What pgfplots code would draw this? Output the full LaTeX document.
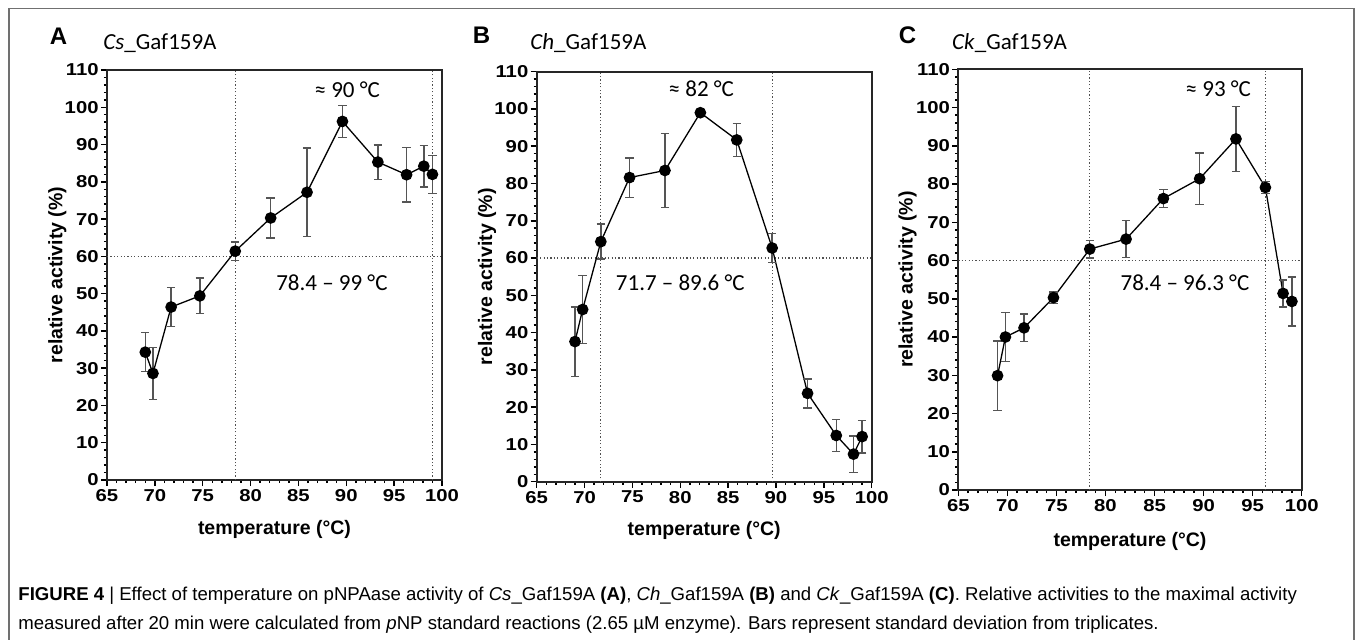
\documentclass[border=0pt]{standalone}
\usepackage{fontspec}
\setmainfont{Liberation Sans}
\newfontfamily\calibri{Carlito}
\usepackage{graphicx}
\usepackage{pgfplots}
\usepackage{pgfplotstable}
\pgfplotsset{compat=1.18}
\definecolor{errgray}{HTML}{555555}
\definecolor{framegray}{HTML}{707070}
\definecolor{dotgray}{HTML}{505050}

\pgfplotstableread{
T y e
69.0 34.3 5.2
69.8 28.6 7.0
71.7 46.4 5.2
74.7 49.4 4.8
78.4 61.4 2.5
82.1 70.3 5.4
85.9 77.2 11.9
89.6 96.2 4.3
93.3 85.3 4.6
96.3 81.9 7.3
98.1 84.2 5.6
99.0 82.0 5.1
}\dataA
\pgfplotstableread{
T y e
69.0 37.6 9.3
69.8 46.2 9.1
71.7 64.4 4.7
74.7 81.6 5.3
78.4 83.5 9.9
82.1 99.0 0.9
85.9 91.7 4.4
89.6 62.7 3.9
93.3 23.7 3.9
96.3 12.4 4.3
98.1 7.4 4.9
99.0 12.1 4.4
}\dataB
\pgfplotstableread{
T y e
69.0 29.9 9.1
69.8 40.0 6.4
71.7 42.4 3.6
74.7 50.3 1.5
78.4 63.0 2.3
82.1 65.6 4.8
85.9 76.2 2.4
89.6 81.4 6.7
93.3 91.8 8.5
96.3 79.1 1.5
98.1 51.4 3.5
99.0 49.3 6.4
}\dataC

\newcommand{\tickfont}{\fontsize{8.6}{10}\selectfont\bfseries}
\newcommand{\tl}[1]{\scalebox{1.18}[1]{\tickfont\pgfmathprintnumber[assume math mode=true]{#1}}}
\pgfplotsset{
  panel/.style={
    scale only axis, anchor=south west,
    xmin=65, xmax=100, ymin=0, ymax=110,
    xtick={65,70,...,100}, ytick={0,10,...,110},
    minor x tick num=4, minor y tick num=4,
    tick align=outside, tick pos=left,
    major tick length=3pt, minor tick length=1.6pt,
    every tick/.style={black, line width=0.75pt},
    axis line style={black!85, line width=1pt},
    /pgf/number format/assume math mode=true,
    xticklabel={\tl{\tick}},
    yticklabel={\tl{\tick}},
    ticklabel style={inner sep=1pt},
    xticklabel style={yshift=-0.5pt},
    label style={font=\fontsize{9.75}{11}\selectfont\bfseries},
    xlabel={temperature (°C)}, ylabel={relative activity (\%)},
    xlabel style={at={(axis description cs:0.5,0)}, anchor=center, yshift=-24.5pt},
    ylabel style={at={(axis description cs:-0.148,0.5)}, anchor=center, rotate=0},
  },
  dataline/.style={black, line width=0.65pt, mark=*, mark size=2.6pt,
    mark options={fill=black, solid},
    error bars/.cd, y dir=both, y explicit,
    error bar style={errgray, line width=0.7pt},
    error mark options={rotate=90, mark size=2.1pt, errgray, line width=0.7pt}},
  refline/.style={dotgray, dash pattern=on 0.6pt off 1.1pt, line width=0.6pt, forget plot},
}
\newcommand{\annfont}{\calibri\fontsize{11.5}{13}\selectfont}
\newcommand{\letterfont}{\fontsize{12}{14}\selectfont\bfseries}

\begin{document}
\begin{tikzpicture}
\path[use as bounding box] (0,0) rectangle (677.5pt,319.5pt);
\draw[framegray, line width=0.75pt] (4.5pt,-10pt) -- (4.5pt,315.25pt) -- (677pt,315.25pt) -- (677pt,-10pt);

% titles
\node[font=\letterfont] at (29.25pt,301.5pt) {A};
\node[font=\annfont, anchor=base west, inner sep=0pt] at (51.5pt,294.85pt) {\textit{Cs}\_Gaf159A};
\node[font=\letterfont] at (240.75pt,302pt) {B};
\node[font=\annfont, anchor=base west, inner sep=0pt] at (265pt,294.85pt) {\textit{Ch}\_Gaf159A};
\node[font=\letterfont] at (453.75pt,302pt) {C};
\node[font=\annfont, anchor=base west, inner sep=0pt] at (475.85pt,294.85pt) {\textit{Ck}\_Gaf159A};

% Panel A
\begin{axis}[panel, at={(53.5pt,79.5pt)}, width=167.5pt, height=205pt]
\addplot[refline] coordinates {(78.4,0) (78.4,110)};
\addplot[refline] coordinates {(99,0) (99,110)};
\addplot[refline] coordinates {(65,60) (100,60)};
\addplot[dataline] table[x=T, y=y, y error=e] {\dataA};
\node[font=\annfont] at (axis cs:90.1,104.8) {≈ 90 °C};
\node[font=\annfont] at (axis cs:88.5,53.0) {78.4 – 99 °C};
\end{axis}

% Panel B
\begin{axis}[panel, at={(268.35pt,78.65pt)}, width=167.5pt, height=205pt]
\addplot[refline] coordinates {(71.7,0) (71.7,110)};
\addplot[refline] coordinates {(89.6,0) (89.6,110)};
\addplot[refline] coordinates {(65,60) (100,60)};
\addplot[dataline] table[x=T, y=y, y error=e] {\dataB};
\node[font=\annfont] at (axis cs:82.2,105.3) {≈ 82 °C};
\node[font=\annfont] at (axis cs:80.0,53.4) {71.7 – 89.6 °C};
\end{axis}

% Panel C
\begin{axis}[panel, at={(479.15pt,74.5pt)}, width=171.7pt, height=210.35pt,
  xlabel style={yshift=-1pt}]
\addplot[refline] coordinates {(78.4,0) (78.4,110)};
\addplot[refline] coordinates {(96.3,0) (96.3,110)};
\addplot[refline] coordinates {(65,60) (100,60)};
\addplot[dataline] table[x=T, y=y, y error=e] {\dataC};
\node[font=\annfont] at (axis cs:91.5,104.8) {≈ 93 °C};
\node[font=\annfont] at (axis cs:88.1,54.2) {78.4 – 96.3 °C};
\end{axis}

% caption
\node[anchor=base west, inner sep=0pt, font=\fontsize{9.3}{11}\selectfont] at (9pt,19.2pt)
 {\textbf{FIGURE 4} | Effect of temperature on pNPAase activity of \textit{Cs}\_Gaf159A \textbf{(A)}, \textit{Ch}\_Gaf159A \textbf{(B)} and \textit{Ck}\_Gaf159A \textbf{(C)}. Relative activities to the maximal activity};
\node[anchor=base west, inner sep=0pt, font=\fontsize{9.3}{11}\selectfont] at (9pt,5pt)
 {measured after 20 min were calculated from \textit{p}NP standard reactions (2.65 µM enzyme). Bars represent standard deviation from triplicates.};
\end{tikzpicture}
\end{document}
